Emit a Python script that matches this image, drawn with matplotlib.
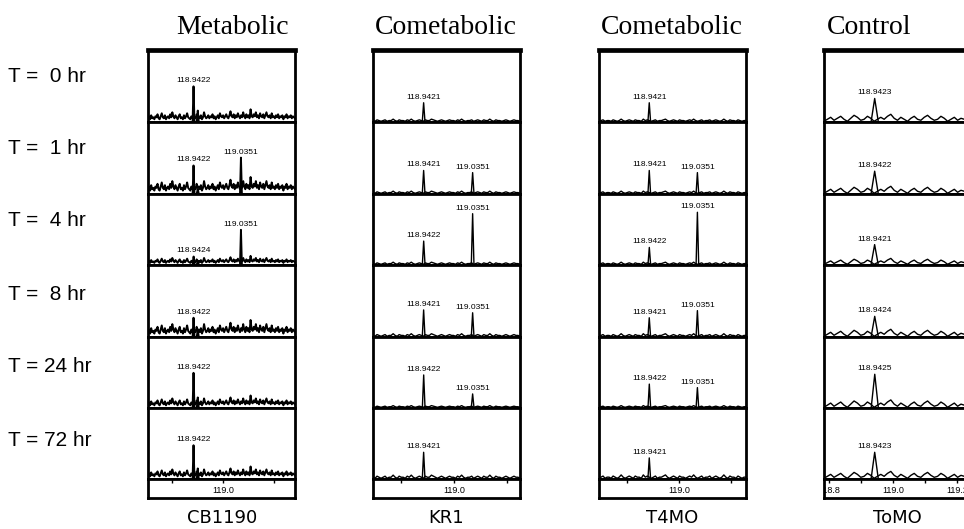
import matplotlib.pyplot as plt
import numpy as np
from matplotlib.transforms import blended_transform_factory

W, H = 964, 529

groups = ['Metabolic', 'Cometabolic', 'Cometabolic', 'Control']
strains = ['CB1190', 'KR1', 'T4MO', 'ToMO']
times = ['T =  0 hr', 'T =  1 hr', 'T =  4 hr', 'T =  8 hr', 'T = 24 hr', 'T = 72 hr']

# m/z window of each column
xlims = [(118.853, 119.141), (118.846, 119.125), (118.845, 119.129), (118.784, 119.243)]
ticks = [[118.9, 119.0, 119.1], [118.9, 119.0, 119.1], [118.9, 119.0, 119.1],
         [118.8, 118.9, 119.0, 119.1, 119.2]]
tick_labels = [['', '119.0', ''], ['', '119.0', ''], ['', '119.0', ''],
               ['118.8', '', '119.0', '', '119.2']]

# labelled peaks per row: (m/z label, height in % of panel)
cb1190_peaks = [[('118.9422', 49)],
                [('118.9422', 39), ('119.0351', 50)],
                [('118.9424', 11), ('119.0351', 49)],
                [('118.9422', 26)],
                [('118.9422', 49)],
                [('118.9422', 47)]]
kr1_peaks = [[('118.9421', 26)],
             [('118.9421', 32), ('119.0351', 29)],
             [('118.9422', 33), ('119.0351', 72)],
             [('118.9421', 37), ('119.0351', 33)],
             [('118.9422', 46), ('119.0351', 19)],
             [('118.9421', 37)]]
t4mo_peaks = [[('118.9421', 26)],
              [('118.9421', 32), ('119.0351', 29)],
              [('118.9422', 24), ('119.0351', 74)],
              [('118.9421', 26), ('119.0351', 36)],
              [('118.9422', 33), ('119.0351', 28)],
              [('118.9421', 29)]]
tomo_peaks = [[('118.9423', 32)],
              [('118.9422', 31)],
              [('118.9421', 28)],
              [('118.9424', 28)],
              [('118.9425', 47)],
              [('118.9423', 37)]]

# small unlabelled shoulder next to the main CB1190 peak
cb1190_minor = [(118.9505, 15), (118.9505, 6), (118.9505, 4),
                (118.9505, 9), (118.9505, 14), (118.9505, 14)]

# baseline noise, % of panel height
noise_cb1190 = [3, 5, 2, 6, 3, 4, 2, 5, 4, 7, 3, 2, 5, 8, 4, 3, 6, 2, 4, 5,
                3, 7, 4, 9, 5, 3, 6, 4, 2, 5, 7, 3, 4, 2, 6, 3, 5, 8, 4, 3,
                2, 5, 3, 6, 4, 3, 7, 4, 5, 3, 6, 2, 4, 9, 5, 3, 4, 6, 3, 5,
                4, 7, 3, 5, 2, 4, 6, 3, 8, 5, 4, 6, 3, 5, 7, 4, 3, 6, 10, 5,
                4, 7, 3, 6, 4, 8, 5, 3, 6, 4, 9, 5, 3, 7, 4, 6, 3, 12, 5, 4,
                7, 5, 9, 4, 6, 3, 8, 5, 4, 7, 3, 6, 9, 5, 4, 6, 3, 8, 4, 5,
                3, 6, 4, 7, 3, 5, 4, 6, 2, 5, 4, 7, 3, 5, 4, 6, 3, 5, 4, 3]
noise_kr1 = [1, 0, 2, 1, 0, 1, 2, 0, 1, 1, 3, 1, 0, 2, 1, 1, 0, 2, 1, 3, 1, 0, 1, 2, 1,
             0, 2, 1, 1, 3, 2, 1, 0, 1, 2, 1, 0, 1, 2, 1, 1, 0, 2, 1, 3, 1, 0, 1, 1, 2,
             0, 1, 2, 1, 0, 2, 1, 1, 3, 1, 0, 2, 1, 1, 0, 1, 2, 1, 0, 1, 2, 1, 1, 0]
noise_t4mo = [0, 1, 2, 0, 1, 1, 0, 2, 1, 0, 1, 3, 1, 0, 1, 2, 1, 0, 2, 1, 1, 0, 3, 1, 2,
              1, 0, 1, 2, 0, 1, 1, 2, 3, 1, 0, 1, 2, 1, 0, 2, 1, 1, 0, 1, 2, 1, 3, 1, 0,
              1, 2, 0, 1, 1, 2, 0, 1, 2, 1, 0, 1, 3, 1, 0, 2, 1, 1, 0, 2, 1, 0, 1, 1]
noise_tomo = [0, 2, 4, 1, 3, 5, 2, 0, 3, 6, 4, 1, 2, 5, 3, 0, 2, 4, 2, 5, 7, 3, 1, 4, 2,
              0, 3, 5, 2, 1, 4, 6, 3, 1, 2, 5, 3, 0, 2, 4, 1, 3, 2, 0, 3]
noise_level = [[1.4, 1.9, 1.0, 1.9, 1.4, 1.4],
               [1.0, 1.0, 1.0, 1.2, 0.8, 1.5],
               [1.0, 1.0, 1.0, 1.2, 0.8, 1.6],
               [1.4, 1.4, 1.2, 1.4, 1.5, 1.4]]

all_peaks = [cb1190_peaks, kr1_peaks, t4mo_peaks, tomo_peaks]
all_noise = [noise_cb1190, noise_kr1, noise_t4mo, noise_tomo]
peak_halfwidth = [0.0018, 0.0025, 0.0025, 0.011]
trace_lw = [1.4, 1.0, 1.0, 1.0]

# layout in pixels
col_left = [148, 373, 599, 824]
col_w = 147
row_edges = [50, 122, 194, 265, 337, 408, 479]
strip_bottom = 498
title_x = [232, 446, 672, 869]
strain_x = [222, 446, 672, 897]
time_y = [76, 148, 221, 294, 367, 440]

fig = plt.figure(figsize=(W / 100, H / 100), dpi=100)


def px_axes(left, top, width, height):
    return fig.add_axes([left / W, 1 - (top + height) / H, width / W, height / H])


for c in range(4):
    x0, x1 = xlims[c]
    noise = np.array(all_noise[c], dtype=float)
    nx = np.linspace(x0, x1, len(noise))
    for r in range(6):
        top = row_edges[r]
        ax = px_axes(col_left[c], top, col_w, row_edges[r + 1] - top)
        ax.set_xlim(x0, x1)
        ax.set_ylim(-1, 100)
        ax.set_xticks([])
        ax.set_yticks([])
        for s in ax.spines.values():
            s.set_linewidth(2.0)
        if r == 0:
            ax.spines['top'].set_linewidth(3.4)
        ax.plot(nx, noise * noise_level[c][r], color='black', lw=trace_lw[c])
        w = peak_halfwidth[c]
        for lbl, h in all_peaks[c][r]:
            mz = float(lbl)
            ax.plot([mz - w, mz, mz + w], [0, h, 0], color='black', lw=trace_lw[c])
            ax.annotate(lbl, xy=(mz, h), xytext=(0, 1.5), textcoords='offset points',
                        ha='center', va='bottom', fontsize=6, family='Liberation Sans')
        if c == 0:
            mz, h = cb1190_minor[r]
            ax.plot([mz - w, mz, mz + w], [0, h, 0], color='black', lw=trace_lw[c])

    # m/z axis strip
    ax = px_axes(col_left[c], row_edges[-1], col_w, strip_bottom - row_edges[-1])
    ax.set_xlim(x0, x1)
    ax.set_ylim(0, 1)
    ax.set_yticks([])
    ax.set_xticks(ticks[c])
    ax.xaxis.set_ticks_position('top')
    ax.tick_params(axis='x', direction='in', length=3, width=1,
                   labeltop=False, labelbottom=False)
    for s in ax.spines.values():
        s.set_linewidth(2.0)
    tr = blended_transform_factory(ax.transData, ax.transAxes)
    for t, lbl in zip(ticks[c], tick_labels[c]):
        if lbl:
            ax.text(t, 0.4, lbl, transform=tr, ha='center', va='center',
                    fontsize=6.5, family='Liberation Sans', clip_on=True)

    fig.text(title_x[c] / W, 1 - 27 / H, groups[c], ha='center', va='center',
             family='Liberation Serif', fontsize=20)
    fig.text(strain_x[c] / W, 1 - 518 / H, strains[c], ha='center', va='center',
             family='DejaVu Sans', fontsize=13)

for r in range(6):
    fig.text(8 / W, 1 - time_y[r] / H, times[r], ha='left', va='center',
             family='Liberation Sans', fontsize=15)

fig.savefig('out.png', dpi=100)
